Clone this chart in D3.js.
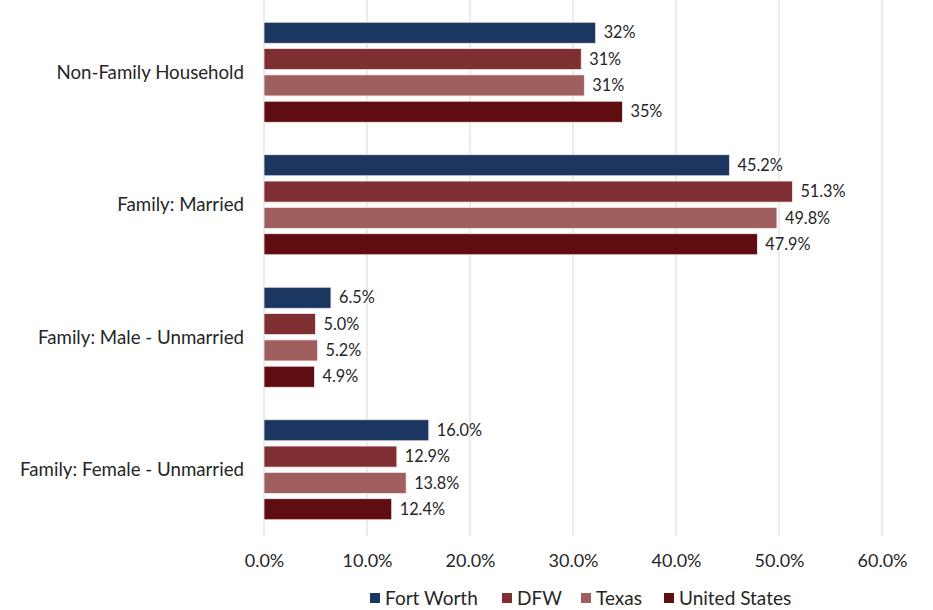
<!DOCTYPE html>
<html>
  <head>
    <meta charset="utf-8">
    <script src="https://d3js.org/d3.v7.min.js"></script>
    <title>Household types</title>
  </head>
  <body>
<style>
body {
  margin: 0;
  background-color: #fff;
  font-family: 'Lato', sans-serif;
}
svg text {
  fill: #262626;
}
.grid line {
  stroke: #e4e4e4;
  stroke-width: 1.5;
}
</style>
<svg></svg>
<script type="text/javascript">
  // chart data
  const categories = ["Non-Family Household", "Family: Married", "Family: Male - Unmarried", "Family: Female - Unmarried"];
  const series = ["Fort Worth", "DFW", "Texas", "United States"];
  const fortWorth = [32.2, 45.2, 6.5, 16.0];
  const dfw = [30.8, 51.3, 5.0, 12.9];
  const texas = [31.1, 49.8, 5.2, 13.8];
  const unitedStates = [34.8, 47.9, 4.9, 12.4];
  const labelDecimals = [0, 1, 1, 1];
  const xTicks = [0, 10, 20, 30, 40, 50, 60];

  const colors = ["#1a3661", "#7f2f32", "#a05f5f", "#5f0d10"];
  const values = [fortWorth, dfw, texas, unitedStates];

  const width = 933;
  const height = 610;

  const svg = d3.select("svg")
    .attr("width", width)
    .attr("height", height);

  const x = d3.scaleLinear()
    .domain([0, 60])
    .range([264, 882]);

  const y0 = d3.scaleBand()
    .domain(categories)
    .range([6, 536])
    .paddingInner(0.245)
    .paddingOuter(0.1225);

  const y1 = d3.scaleBand()
    .domain(series)
    .range([0, y0.bandwidth()])
    .paddingInner(0.2);

  // gridlines
  svg.append("g")
    .attr("class", "grid")
    .selectAll("line")
    .data(xTicks)
    .enter().append("line")
    .attr("x1", d => x(d))
    .attr("x2", d => x(d))
    .attr("y1", 0)
    .attr("y2", 536);

  // x axis labels
  const xAxis = svg.append("g")
    .attr("transform", "translate(0,536)")
    .call(d3.axisBottom(x).tickValues(xTicks).tickSize(0).tickPadding(18).tickFormat(d => d.toFixed(1) + "%"));
  xAxis.select(".domain").remove();
  xAxis.selectAll("text")
    .style("font-family", "Lato")
    .style("font-size", "18px")
    .attr("fill", "#262626");

  // category labels
  svg.append("g")
    .selectAll("text")
    .data(categories)
    .enter().append("text")
    .attr("x", 244)
    .attr("y", d => y0(d) + y0.bandwidth() / 2)
    .attr("dy", "0.35em")
    .attr("text-anchor", "end")
    .style("font-size", "18.7px")
    .text(d => d);

  // bars
  const groups = svg.append("g")
    .selectAll("g")
    .data(categories)
    .enter().append("g")
    .attr("transform", d => "translate(0," + y0(d) + ")");

  groups.each(function(cat, ci) {
    const rows = series.map((s, si) => ({ s: s, si: si, v: values[si][ci], dec: labelDecimals[ci] }));
    const g = d3.select(this);

    g.selectAll("rect")
      .data(rows)
      .enter().append("rect")
      .attr("x", x(0))
      .attr("y", d => y1(d.s))
      .attr("width", d => x(d.v) - x(0))
      .attr("height", y1.bandwidth())
      .attr("fill", d => colors[d.si])
      .attr("stroke", "#f3e9e9")
      .attr("stroke-width", 0.8);

    g.selectAll("text")
      .data(rows)
      .enter().append("text")
      .attr("x", d => x(d.v) + 8)
      .attr("y", d => y1(d.s) + y1.bandwidth() / 2)
      .attr("dy", "0.35em")
      .style("font-size", "16.3px")
      .text(d => d.v.toFixed(d.dec) + "%");
  });

  // legend
  const legendX = [370, 502, 581, 664];
  const legend = svg.append("g")
    .selectAll("g")
    .data(series)
    .enter().append("g")
    .attr("transform", (d, i) => "translate(" + legendX[i] + ",598)");

  legend.append("rect")
    .attr("x", 0)
    .attr("y", -5)
    .attr("width", 10)
    .attr("height", 10)
    .attr("fill", (d, i) => colors[i]);

  legend.append("text")
    .attr("x", 15)
    .attr("dy", "0.35em")
    .style("font-size", "19px")
    .text(d => d);
</script>
  </body>
</html>
